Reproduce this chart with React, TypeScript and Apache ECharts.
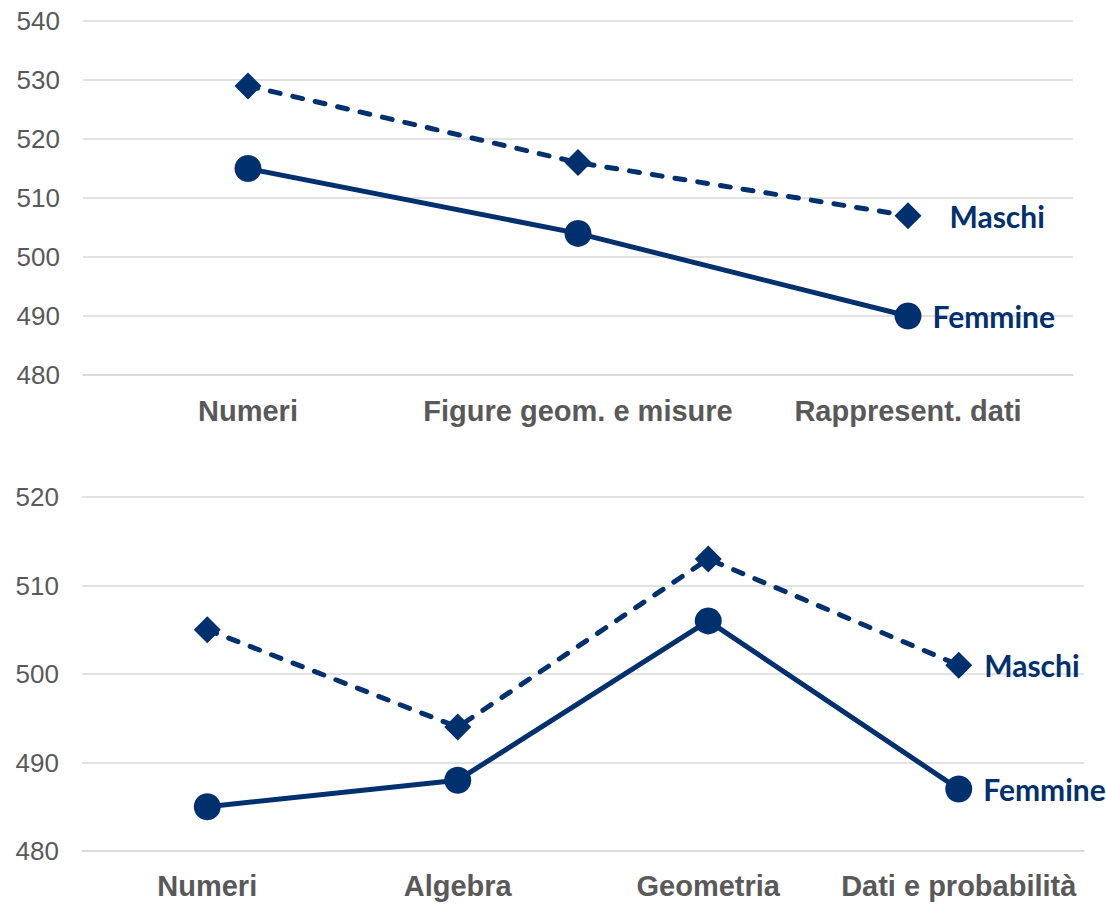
import React, { useEffect, useRef } from "react";
import * as echarts from "echarts";

const topCategories = ["Numeri", "Figure geom. e misure", "Rappresent. dati"];
const topMaschi = [529, 516, 507];
const topFemmine = [515, 504, 490];

const bottomCategories = ["Numeri", "Algebra", "Geometria", "Dati e probabilità"];
const bottomMaschi = [505, 494, 513, 501];
const bottomFemmine = [485, 488, 506, 487];

const yTicksTop = { min: 480, max: 540, interval: 10 };
const yTicksBottom = { min: 480, max: 520, interval: 10 };

const NAVY = "#00306E";
const GRAY = "#595959";
const GRID = "#D9D9D9";

function withEndLabel(values: number[], name: string, distance: number) {
  return values.map((v, i) =>
    i === values.length - 1
      ? {
          value: v,
          label: {
            show: true,
            position: "right",
            distance,
            formatter: name,
            color: NAVY,
            fontFamily: "Lato",
            fontWeight: "bold",
            fontSize: 30,
          },
        }
      : v
  );
}

export default function App() {
  const ref = useRef<HTMLDivElement>(null);
  useEffect(() => {
    if (!ref.current) return;
    const chart = echarts.init(ref.current, null, { renderer: "svg" });
    const xAxisBase = {
      type: "category",
      boundaryGap: true,
      axisLine: { show: true, lineStyle: { color: GRID, width: 1.5 } },
      axisTick: { show: false },
      axisLabel: {
        color: GRAY,
        fontFamily: "Liberation Sans",
        fontWeight: "bold",
        fontSize: 29,
        interval: 0,
      },
    };
    const yAxisBase = {
      type: "value",
      axisLine: { show: false },
      axisTick: { show: false },
      splitLine: { show: true, lineStyle: { color: GRID, width: 1.5 } },
      axisLabel: {
        color: GRAY,
        fontFamily: "Liberation Sans",
        fontSize: 26,
        margin: 23,
      },
    };
    const solidStyle = { color: NAVY, width: 5, type: "solid" };
    const dashStyle = { color: NAVY, width: 5, type: [10, 13], cap: "round" };
    chart.setOption({
      animation: false,
      grid: [
        { left: 83, right: 33, top: 21, height: 354 },
        { left: 82, right: 22, top: 497, height: 354 },
      ],
      xAxis: [
        { ...xAxisBase, gridIndex: 0, data: topCategories, axisLabel: { ...xAxisBase.axisLabel, margin: 21 } },
        { ...xAxisBase, gridIndex: 1, data: bottomCategories, axisLabel: { ...xAxisBase.axisLabel, margin: 20 } },
      ],
      yAxis: [
        { ...yAxisBase, gridIndex: 0, ...yTicksTop },
        { ...yAxisBase, gridIndex: 1, ...yTicksBottom },
      ],
      series: [
        {
          type: "line",
          xAxisIndex: 0,
          yAxisIndex: 0,
          data: withEndLabel(topMaschi, "Maschi", 28),
          lineStyle: dashStyle,
          symbol: "diamond",
          symbolSize: 27,
          itemStyle: { color: NAVY },
        },
        {
          type: "line",
          xAxisIndex: 0,
          yAxisIndex: 0,
          data: withEndLabel(topFemmine, "Femmine", 11),
          lineStyle: solidStyle,
          symbol: "circle",
          symbolSize: 27,
          itemStyle: { color: NAVY },
        },
        {
          type: "line",
          xAxisIndex: 1,
          yAxisIndex: 1,
          data: withEndLabel(bottomMaschi, "Maschi", 12),
          lineStyle: dashStyle,
          symbol: "diamond",
          symbolSize: 27,
          itemStyle: { color: NAVY },
        },
        {
          type: "line",
          xAxisIndex: 1,
          yAxisIndex: 1,
          data: withEndLabel(bottomFemmine, "Femmine", 11),
          lineStyle: solidStyle,
          symbol: "circle",
          symbolSize: 27,
          itemStyle: { color: NAVY },
        },
      ],
    });
    return () => chart.dispose();
  }, []);
  return (
    <div
      ref={ref}
      style={{ position: "fixed", left: 0, top: 0, width: 1106, height: 904, background: "#fff" }}
    />
  );
}
